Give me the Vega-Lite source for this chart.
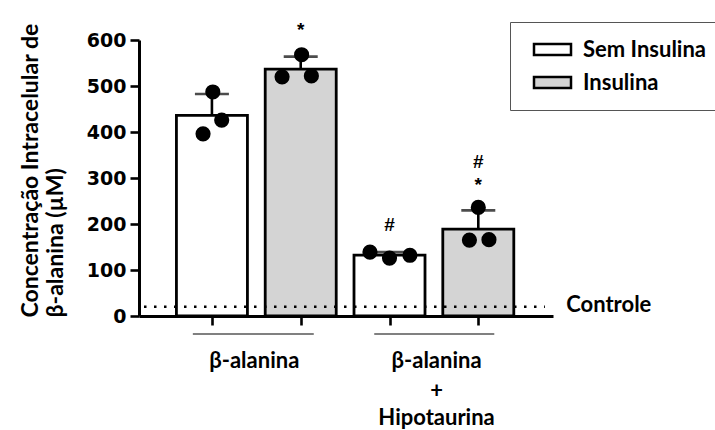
{
  "$schema": "https://vega.github.io/schema/vega-lite/v6.json",
  "autosize": "none",
  "width": 414,
  "height": 276,
  "padding": {"left": 139, "top": 40, "right": 162, "bottom": 114},
  "background": "white",
  "datasets": {
    "obs": [
      {"grupo": "β-alanina", "insulina": "Sem Insulina", "pos": 1, "ponto": 0.9, "valor": 396},
      {"grupo": "β-alanina", "insulina": "Sem Insulina", "pos": 1, "ponto": 1.11, "valor": 426},
      {"grupo": "β-alanina", "insulina": "Sem Insulina", "pos": 1, "ponto": 1.01, "valor": 487},
      {"grupo": "β-alanina", "insulina": "Insulina", "pos": 2, "ponto": 1.79, "valor": 520},
      {"grupo": "β-alanina", "insulina": "Insulina", "pos": 2, "ponto": 2.12, "valor": 522},
      {"grupo": "β-alanina", "insulina": "Insulina", "pos": 2, "ponto": 2.01, "valor": 568},
      {"grupo": "β-alanina + Hipotaurina", "insulina": "Sem Insulina", "pos": 3, "ponto": 2.78, "valor": 139},
      {"grupo": "β-alanina + Hipotaurina", "insulina": "Sem Insulina", "pos": 3, "ponto": 3.0, "valor": 126},
      {"grupo": "β-alanina + Hipotaurina", "insulina": "Sem Insulina", "pos": 3, "ponto": 3.23, "valor": 132},
      {"grupo": "β-alanina + Hipotaurina", "insulina": "Insulina", "pos": 4, "ponto": 3.9, "valor": 165},
      {"grupo": "β-alanina + Hipotaurina", "insulina": "Insulina", "pos": 4, "ponto": 4.12, "valor": 166},
      {"grupo": "β-alanina + Hipotaurina", "insulina": "Insulina", "pos": 4, "ponto": 4.0, "valor": 236}
    ],
    "marcas": [
      {"pos": 2, "valor": 622, "texto": "*"},
      {"pos": 3, "valor": 198, "texto": "#"},
      {"pos": 4, "valor": 285, "texto": "*"},
      {"pos": 4, "valor": 335, "texto": "#"}
    ],
    "controle": [
      {"inicio": 0.235, "fim": 4.75, "rotulo_x": 4.99, "valor": 20, "texto": "Controle"}
    ],
    "grupos": [
      {"inicio": 0.785, "fim": 2.147, "centro": 1.477, "nivel": -39},
      {"inicio": 2.828, "fim": 4.18, "centro": 3.53, "nivel": -39}
    ],
    "rotulos": [
      {"centro": 1.477, "valor": -98, "texto": "β-alanina"},
      {"centro": 3.53, "valor": -98, "texto": "β-alanina"},
      {"centro": 3.53, "valor": -164, "texto": "+"},
      {"centro": 3.53, "valor": -222, "texto": "Hipotaurina"}
    ]
  },
  "layer": [
    {
      "data": {"name": "obs"},
      "mark": {"type": "errorbar", "extent": "stdev", "orient": "vertical", "ticks": {"size": 34, "thickness": 2.6, "color": "black"}, "rule": {"strokeWidth": 2.6, "color": "black"}},
      "encoding": {
        "x": {"field": "pos", "type": "quantitative", "scale": {"domain": [0.235, 4.785], "nice": false, "zero": false},
          "axis": {"values": [1, 2, 3, 4], "labels": false, "title": null, "grid": false, "tickSize": 9, "tickWidth": 2.6, "tickColor": "black", "domainColor": "black", "domainWidth": 3}},
        "y": {"field": "valor", "type": "quantitative", "scale": {"domain": [0, 600], "nice": false},
          "axis": {"values": [0, 100, 200, 300, 400, 500, 600], "grid": false, "tickSize": 9, "tickWidth": 2.6, "tickColor": "black", "domainColor": "black", "domainWidth": 3,
            "labelFont": "DejaVu Sans", "labelFontWeight": "bold", "labelFontSize": 19, "labelColor": "black", "labelPadding": 4,
            "title": ["Concentração Intracelular de", "β-alanina (µM)"], "titleFont": "Lato", "titleFontSize": 23, "titleFontWeight": "bold", "titleColor": "black",
            "titleAngle": 270, "titleAlign": "left", "titleBaseline": "alphabetic", "titleX": -102, "titleY": 277, "titleLineHeight": 25}}
      }
    },
    {
      "data": {"name": "obs"},
      "mark": {"type": "bar", "size": 71, "stroke": "black", "strokeWidth": 2.8},
      "encoding": {
        "x": {"field": "pos", "type": "quantitative"},
        "y": {"aggregate": "mean", "field": "valor", "type": "quantitative"},
        "fill": {"field": "insulina", "type": "nominal", "scale": {"domain": ["Sem Insulina", "Insulina"], "range": ["white", "#d4d4d4"]},
          "legend": {"orient": "none", "legendX": 371, "legendY": -18, "title": null, "symbolType": "M-0.35,-0.55H3.35V0.55H-0.35Z", "symbolSize": 400,
            "symbolStrokeColor": "black", "symbolStrokeWidth": 2.5, "labelFont": "Lato", "labelFontSize": 22, "labelFontWeight": "bold", "labelColor": "black",
            "labelOffset": 34, "rowPadding": 10, "padding": 16, "strokeColor": "#555555"}}
      }
    },
    {
      "data": {"name": "obs"},
      "mark": {"type": "point", "shape": "circle", "filled": true, "size": 230, "color": "black", "opacity": 1},
      "encoding": {
        "x": {"field": "ponto", "type": "quantitative"},
        "y": {"field": "valor", "type": "quantitative"}
      }
    },
    {
      "data": {"name": "controle"},
      "mark": {"type": "rule", "strokeDash": [2.5, 7.5], "strokeWidth": 2.5, "color": "black"},
      "encoding": {
        "x": {"field": "inicio", "type": "quantitative"},
        "x2": {"field": "fim"},
        "y": {"field": "valor", "type": "quantitative"}
      }
    },
    {
      "data": {"name": "controle"},
      "mark": {"type": "text", "align": "left", "baseline": "middle", "font": "Lato", "fontSize": 22, "fontWeight": "bold", "color": "black", "dy": -2},
      "encoding": {
        "x": {"field": "rotulo_x", "type": "quantitative"},
        "y": {"field": "valor", "type": "quantitative"},
        "text": {"field": "texto"}
      }
    },
    {
      "data": {"name": "marcas"},
      "mark": {"type": "text", "align": "center", "baseline": "middle", "font": "Liberation Sans", "fontSize": 19, "fontWeight": "bold", "color": "black"},
      "encoding": {
        "x": {"field": "pos", "type": "quantitative"},
        "y": {"field": "valor", "type": "quantitative"},
        "text": {"field": "texto"}
      }
    },
    {
      "data": {"name": "grupos"},
      "mark": {"type": "rule", "strokeWidth": 2, "color": "#808080"},
      "encoding": {
        "x": {"field": "inicio", "type": "quantitative"},
        "x2": {"field": "fim"},
        "y": {"field": "nivel", "type": "quantitative"}
      }
    },
    {
      "data": {"name": "rotulos"},
      "mark": {"type": "text", "align": "center", "baseline": "middle", "font": "Lato", "fontSize": 22, "fontWeight": "bold", "color": "black"},
      "encoding": {
        "x": {"field": "centro", "type": "quantitative"},
        "y": {"field": "valor", "type": "quantitative"},
        "text": {"field": "texto"}
      }
    }
  ],
  "config": {"view": {"stroke": null}}
}
